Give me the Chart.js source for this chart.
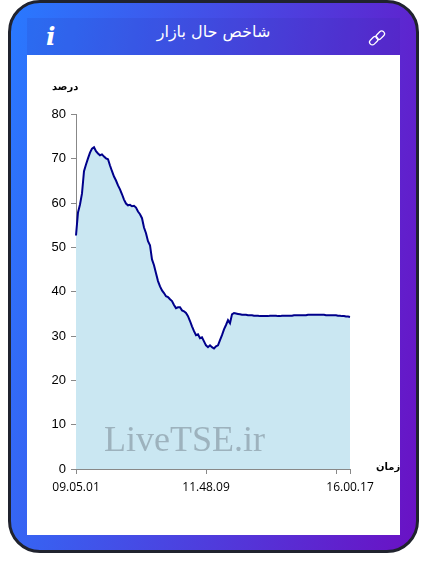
<!DOCTYPE html>
<html>
<head>
<meta charset="utf-8">
<script src="https://cdn.jsdelivr.net/npm/chart.js@4"></script>
<style>
html, body { margin: 0; padding: 0; background: #fff; }
#page { position: relative; width: 427px; height: 574px; overflow: hidden; }
#card {
	position: absolute; left: 8px; top: 0; width: 411px; height: 553px; box-sizing: border-box;
	border: 3px solid #20232e; border-radius: 32px;
	background: linear-gradient(100deg, #2979ff 0%, #6a11c4 100%);
}
#header { position: absolute; left: 27px; top: 18px; width: 373px; height: 37px; background: rgba(40, 40, 160, 0.12); }
#title { position: absolute; left: 27px; width: 373px; top: 22px; text-align: center; color: #fff; font: 16px "DejaVu Sans", sans-serif; direction: rtl; }
#info { position: absolute; left: 46px; top: 22px; color: #fff; font: italic bold 25px "DejaVu Serif", serif; }
#link { position: absolute; left: 368px; top: 29px; }
#panel { position: absolute; left: 27px; top: 55px; width: 373px; height: 480px; background: #fff; }
#watermark { position: absolute; left: 104px; top: 418px; color: rgba(90, 100, 110, 0.4); font: 36px "Liberation Serif", serif; }
.axis-name { position: absolute; color: #000; font: bold 10px "DejaVu Sans", sans-serif; direction: rtl; }
</style>
</head>
<body>
<div id="page">
	<div id="card"></div>
	<div id="header"></div>
	<div id="title">شاخص حال بازار</div>
	<div id="info">i</div>
	<svg id="link" width="18" height="18" viewBox="0 0 18 18" fill="none" stroke="#fff" stroke-width="1.3">
		<rect x="1" y="9" width="9.5" height="5.5" rx="2.7" transform="rotate(-45 5.7 11.7)"></rect>
		<rect x="7.5" y="3.5" width="9.5" height="5.5" rx="2.7" transform="rotate(-45 12.2 6.2)"></rect>
	</svg>
	<div id="panel"><canvas id="marketChart" width="373" height="480"></canvas></div>
	<div class="axis-name" style="left:52px;top:81px;">درصد</div>
	<div class="axis-name" style="left:376px;top:461px;">زمان</div>
	<div id="watermark">LiveTSE.ir</div>
</div>
<script>
const marketCanvas = document.getElementById("marketChart");

// one sample per tick slot, most slots have no label of their own
const xLabelsShown = { 0: "09.05.01", 65: "11.48.09", 137: "16.00.17" };
const xTickSlots = [0, 65, 130, 137];
const yTickValues = [0, 10, 20, 30, 40, 50, 60, 70, 80];

const indexValues = [
	52.7, 57.9, 59.7, 62.2, 67.2, 68.7, 70.1, 71.4, 72.3, 72.6,
	71.7, 71.2, 70.8, 71.0, 70.5, 70.1, 69.9, 68.5, 67.2, 66.0,
	65.1, 64.0, 63.1, 62.0, 60.8, 59.9, 59.5, 59.6, 59.3, 59.4,
	59.0, 58.1, 57.5, 56.6, 54.5, 53.2, 51.4, 50.5, 47.3, 46.0,
	44.2, 42.4, 41.2, 40.3, 39.7, 39.0, 38.8, 38.3, 37.9, 37.0,
	36.3, 36.5, 36.5, 35.8, 35.6, 35.2, 34.5, 33.4, 32.2, 31.1,
	30.2, 30.4, 29.5, 29.7, 28.8, 27.9, 27.5, 27.9, 27.5, 27.2,
	27.7, 27.9, 29.1, 30.2, 31.5, 32.5, 33.6, 32.9, 34.9, 35.2,
	35.1, 35.0, 34.9, 34.8, 34.8, 34.8, 34.7, 34.7, 34.7, 34.6,
	34.6, 34.6, 34.5, 34.5, 34.5, 34.5, 34.5, 34.6, 34.6, 34.6,
	34.6, 34.5, 34.5, 34.6, 34.6, 34.6, 34.6, 34.6, 34.6, 34.7,
	34.7, 34.7, 34.7, 34.7, 34.7, 34.7, 34.8, 34.8, 34.8, 34.8,
	34.8, 34.8, 34.8, 34.8, 34.8, 34.7, 34.7, 34.7, 34.7, 34.7,
	34.7, 34.6, 34.6, 34.5, 34.5, 34.4, 34.4, 34.3,
];

const marketLabels = indexValues.map((v, i) => xLabelsShown[i] || "");

new Chart(marketCanvas, {
	type: "line",
	data: {
		labels: marketLabels,
		datasets: [
			{
				data: indexValues,
				borderColor: "#00008b",
				borderWidth: 2,
				backgroundColor: "#cae7f2",
				fill: "origin",
				pointRadius: 0,
				tension: 0,
			},
		],
	},
	options: {
		responsive: false,
		animation: false,
		layout: { padding: { top: 59.5, right: 50, left: 0, bottom: 0 } },
		plugins: { legend: { display: false }, tooltip: { enabled: false } },
		scales: {
			x: {
				offset: false,
				grid: { drawOnChartArea: false, color: "#888", tickLength: 5 },
				border: { color: "#888" },
				afterBuildTicks: (axis) => {
					axis.ticks = xTickSlots.map((s) => ({ value: s }));
				},
				afterFit: (axis) => {
					axis.height = 66;
				},
				ticks: {
					autoSkip: false,
					maxRotation: 0,
					padding: 6,
					color: "#000",
					font: { family: "'Open Sans'", size: 12 },
				},
			},
			y: {
				min: 0,
				max: 80,
				grid: { drawOnChartArea: false, color: "#888", tickLength: 5 },
				border: { color: "#888" },
				afterBuildTicks: (axis) => {
					axis.ticks = yTickValues.map((v) => ({ value: v }));
				},
				afterFit: (axis) => {
					axis.width = 49;
				},
				ticks: {
					padding: 5,
					color: "#000",
					font: { family: "'Liberation Sans'", size: 13 },
				},
			},
		},
	},
});
</script>
</body>
</html>
